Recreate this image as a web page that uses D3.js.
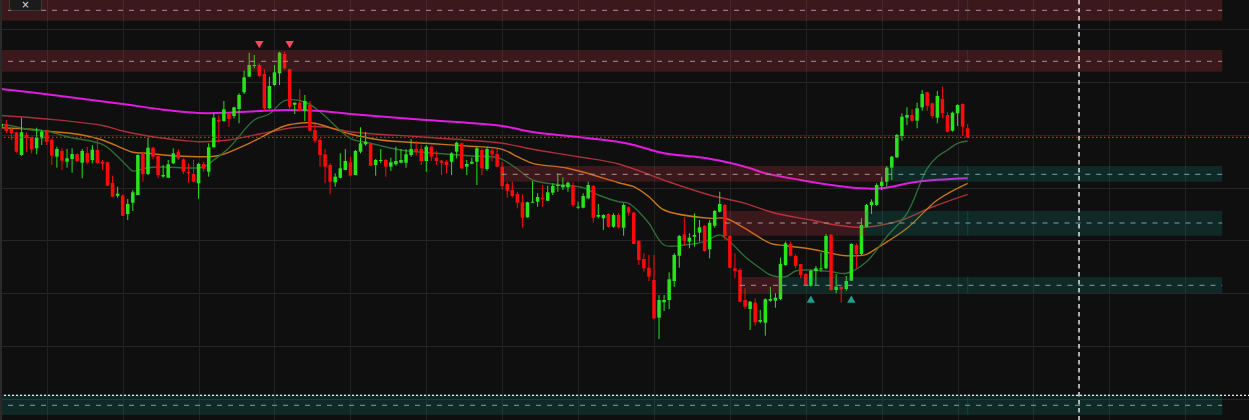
<!DOCTYPE html>
<html><head><meta charset="utf-8">
<script src="https://cdn.jsdelivr.net/npm/d3@7"></script>
<style>html,body{margin:0;padding:0;background:#0f0f0f;overflow:hidden}</style>
</head><body><svg id="c" width="1249" height="420"></svg>
<script>
// ---- Candles (index 0..191), price units ----
const opens = [372.6,375.3,370.3,367,344.3,364.3,362,351,361,367.6,359.6,342.6,348.3,337.6,340.3,345,336.6,346.3,339.3,349.3,337.6,337,316.3,303.6,303.6,285.3,296.6,304.3,346,325.3,351.6,343.3,322.8,321.6,336,347.6,340,327.3,325.3,316,335.3,327.6,352,379.3,378.3,386,383.3,390.3,407,422.6,433.3,434.3,425.3,391,414.3,426,445.3,430.3,394.6,396.6,388.3,394.3,369.3,359.3,345,334.3,317,321.6,329.3,337,324.3,347.6,355,356,334.3,338.3,339.3,332.6,335,336.6,336.6,344.3,350.3,350.3,338.3,352.6,341.6,338.6,337.6,337.6,347.6,356,332.6,335.6,337.6,349.3,330.3,348.6,345.3,332.6,315.3,309.3,305.3,297,282,296.6,297.6,301.6,298.6,306.6,313.6,312,312,314.3,291.6,291.6,301,313.3,282.6,281,285.3,272.6,284.3,271.6,292,286.6,258.3,240.3,231.6,219.3,181.6,197,199.3,218.3,243.6,265,257.6,262.6,266.6,273.3,250,273.6,287.6,294.3,263.3,231,229.3,199.3,190.3,196.6,177.6,176.6,198.6,198.6,200.3,234.3,255.3,243.3,235.3,225.3,213.6,228.3,230.3,231,264.3,209.3,212.6,210.3,218.6,254.3,245.3,272.6,294.3,294.3,313.3,317.6,331.6,342,363.3,381.6,384.3,378.6,392,407,396,381.6,400.3,384.3,368.6,386,395.3,371];
const highs = [376.3,379.3,372.6,367.6,381.6,367,362.6,371.6,369.3,369.3,361,352.6,351,350.3,351,346,350.3,352.6,354.3,359.3,339.3,337.6,323.6,312.6,305,300.3,309.3,345,347.6,361.6,352.6,343.6,334.3,339.3,351,350,341,336,339.3,336.6,337.3,356,386,384.3,398.3,386.6,392.6,406,428.6,446.6,444.3,436,430,422.6,434.3,447.6,447.6,430.3,396.6,410,404.3,398.3,375.3,361,350.3,336,326,346,350.3,342.6,349.3,372,367,356.6,340.3,350.3,340.3,341.6,352.6,350.3,350.3,360.3,358.3,354.3,354.3,353.6,348.3,339.3,339.3,347,357.6,356.6,339.3,341.6,352.6,351,352.6,351.6,350.3,337.6,317,317.6,307.6,305,297.6,318.3,306,314.3,313.6,316,326,322,317.6,317,297.6,306,317.6,314.3,295.3,285,286,286,286,296,293.3,287.6,259.3,246,244.3,244.3,204.3,204.3,227,246,264.3,282,266,286,279.3,274.3,279.3,289.3,307.6,295.3,264.3,246,231,211,198.3,201,189.3,201,212.6,206,241.6,257.6,257.6,245,235.3,226,229.3,233.3,246.6,265.3,265.3,225.3,212.6,223.3,256,256,281,295.3,300,316,322.6,333.3,343.3,365.3,386,392,390,396.6,409.3,407.6,396.6,408.3,412.6,387,387.6,395,396,375.3];
const lows = [372.3,366.3,359.3,346.6,343.6,347,346,345,354.3,354.3,334.3,331.6,329.3,331.6,326.6,337,321,335,336,335,329.3,313.3,302.3,301.6,283.3,279.3,288.3,304.3,317.6,324.3,340.3,321.6,321.6,321.6,335.3,339.3,325.3,316.6,317,300.6,327.6,322.6,352,356.6,377.6,372.6,381,376,405.3,422.6,431,422,388.6,390.3,413.6,414.3,430,389.3,385.3,387.6,378.3,367.6,356.6,332.6,316,305,312.6,321,329.3,322.6,324.3,346,353.6,333.6,323.6,336,322.6,328.3,333.6,336,331.6,342.6,343.6,334.3,327.6,338.3,334.3,324.3,326,324.3,341,330.3,324.3,335.6,314.3,324.3,328.6,337.6,332,309.3,301.6,301.6,291,271.6,281.6,296.6,292.6,292.6,298.3,304.3,307.6,309.3,307.6,292.6,290.3,291,300.3,276.6,281,269.3,271.6,271.6,271,263.6,283.6,255,234.3,227.6,218.3,180.3,160.3,188.3,190.3,212.6,231.6,254.3,251,252.6,257.6,247.6,241,271.6,287,259.3,231,221,197,190.3,169.3,173.6,176,163.6,197.6,191.6,199.3,233.6,242.6,231,221,213.6,212.6,214.3,227.6,230.3,208.6,206,196.6,208.6,218.6,231,244.3,272,285.3,293.6,309.3,312.6,319.3,341.3,358.6,374.3,377.6,371,388.6,388.6,381,376,381,367,367.6,373.3,363.3,361];
const closes = [375.3,368.3,366,347.6,367,361.6,350,362,367.6,357.6,343.6,350.3,338.6,341,345.3,338.3,348.3,337,349.6,336.3,335.6,313.6,302.6,305.6,283.6,295.3,307,344.3,325.3,351.6,342.6,324.3,324.3,335,346,341,327.6,326,317.6,335.3,330.6,352,381.6,377.6,390,380.3,392,404.3,422,434.3,434.3,423.3,391,413.3,427,446.6,431,392.6,396.6,388.3,398.3,368.6,358.6,344.3,332.6,317.6,322.6,331,338.3,323.6,348.3,356,357.6,333.6,339.3,339.3,332.6,337,338.3,339.3,345,350.3,347.6,338.3,352.6,342.6,338.3,336.6,334.3,346,356.6,331,335.3,337.6,351,331,350.3,345,332.6,313.3,308.6,303.3,296.6,281.6,297,297.6,302.3,300,307,313.3,314.3,314.3,316.6,294.3,292.6,303.3,314.3,281.6,284.3,284.3,272.6,284.3,272,294.3,286.6,255.3,239.3,231,222.6,181,199.3,199.3,220,244.3,263.3,258.6,261.6,264.3,272,248.3,276.6,288.3,295.3,263.3,231.6,228.3,197.6,192.6,197.6,177,179.3,200,200.3,201.6,235.3,256,243.6,233.3,224.3,214.3,228.6,231,231,263.3,209.3,212.6,210,218.3,255.3,245.3,274.3,294.3,297.6,314.3,317.6,331.6,342.6,364.3,382.6,384.3,378.6,391,405.3,393.6,383.3,403.3,386,367.6,386.6,394.3,372.6,362];

// ---- Moving averages, read at sample bars [index, value] ----
const maLong = [[0,410.3],[9,405],[24,395.3],[32,389.6],[39,386.3],[45,386.6],[51,388.3],[57,389.3],[63,388.3],[69,385.3],[84,379.3],[99,373.3],[105,367.3],[114,362.3],[122,357.3],[125,354.3],[131,346],[138,342],[143,337.6],[148,331],[151,326],[158,319.3],[164,314.3],[170,311],[174,311],[181,317.6],[191,321]];
const maSlow = [[0,383.8],[9,380.3],[20,373.8],[24,368.3],[29,363.3],[36,358.8],[39,357.6],[45,359.3],[51,365.3],[58,371.8],[64,372.3],[69,367.6],[84,362],[99,356],[105,350],[114,342.6],[122,335.3],[132,317.3],[140,304.3],[147,296],[153,286],[160,279.3],[165,274.3],[170,272],[174,274.3],[178,279.3],[184,292.3],[191,305]];
const maMid = [[0,371.6],[6,370],[9,368.3],[16,364.3],[20,359.3],[24,351],[26,347],[29,346],[32,344.3],[39,342.6],[43,343.8],[49,356],[56,373.3],[60,376.6],[62,376],[69,365.3],[75,359.3],[84,356],[92,353.3],[99,350],[102,342.6],[105,336],[112,331],[122,316.6],[125,312.6],[128,302.6],[131,289.3],[140,281],[143,281],[147,271],[152,256],[155,253.6],[160,250.3],[167,243.6],[171,245],[173,251],[179,271],[185,299.3],[191,316]];
const maFast = [[0,375],[2,373.6],[6,369.3],[9,368.3],[13,362.6],[20,355],[22,347.6],[25,332.6],[26,328.3],[29,331.6],[32,332.3],[40,332.3],[42,339.3],[45,351.3],[50,379.3],[53,385.3],[56,398.6],[60,397.3],[63,387.6],[69,361],[73,356],[79,349.3],[86,346],[93,343.3],[97,342.6],[99,340],[102,330.3],[105,319.3],[109,315.3],[115,311.6],[118,304.3],[122,297.6],[124,296],[126,287.6],[128,276],[131,254.3],[135,254.3],[139,257.6],[142,264.3],[144,257.6],[147,242.6],[150,231],[152,224.3],[155,222.6],[157,228.3],[160,229.3],[164,227.6],[167,226],[171,237.6],[175,262.6],[179,286],[183,331],[185,342.6],[187,349.3],[189,356],[191,358.3]];

// ---- Supply / demand zones ----
const zoneTop    = [499.6, 449.3, 333.3, 288.3, 222.3, 105.0];
const zoneBottom = [478.6, 427.6, 317.6, 263.6, 206.3, 84.3];
const zoneMid    = [489.0, 438.0, 325.0, 276.3, 214.0, 94.0];
const zoneStart  = [-3, -3, 98.9, 143, 146, -3];
const zoneFlip   = [null, null, 175.1, 171, 154.2, null];
const zoneKind   = ["supply","supply","supply","supply","supply","demand"];
const zoneEndIdx = 241.3;

// ---- Signals ----
const sellIdx = [51, 57];   const sellPrice = [455.8, 455.8];
const buyIdx  = [160, 168]; const buyPrice  = [199.0, 199.0];

// ---- Grid / crosshair ----
const xGridIdx = [9,24,39,54,69,84,99,114,129,144,159,174,189,204,219,234];
const yGridVals = [470,417,364,311,259,206,153,100];
const crossIdx = 213, crossPrice = 104;

const W = 1249, H = 420;
const svg = d3.select("#c");
const x = d3.scaleLinear().domain([0, 246]).range([1.24, 1.24 + 246*5.06]);
const y = d3.scaleLinear().domain([499.3, 79.3]).range([0, H]);

svg.append("rect").attr("width", W).attr("height", H).attr("fill", "#0f0f0f");

// grid
svg.append("g")
  .call(d3.axisLeft(y).tickValues(yGridVals).tickSize(-W).tickFormat(""))
  .call(g => { g.select(".domain").remove(); g.selectAll("line").attr("stroke","#262626").attr("shape-rendering","crispEdges"); });
svg.append("g")
  .call(d3.axisTop(x).tickValues(xGridIdx).tickSize(-H).tickFormat(""))
  .call(g => { g.select(".domain").remove(); g.selectAll("line").attr("stroke","#222222").attr("shape-rendering","crispEdges"); });

// moving averages
const line = d3.line().x(d => x(d[0])).y(d => y(d[1])).curve(d3.curveCatmullRom.alpha(0.5));
const maDefs = [[maSlow,"#a8303a",1.4],[maMid,"#c87512",1.4],[maFast,"#2f6c35",1.4],[maLong,"#e21be2",2]];
maDefs.forEach(([d,c,w]) => svg.append("path").attr("d", line(d)).attr("fill","none").attr("stroke",c).attr("stroke-width",w));

// candles
const idx = d3.range(opens.length);
const cg = svg.append("g");
idx.forEach(i => {
  const up = closes[i] >= opens[i];
  const col = up ? "#27e41b" : "#ff0a0a";
  const cx = x(i);
  cg.append("line").attr("x1",cx).attr("x2",cx).attr("y1",y(highs[i])).attr("y2",y(lows[i]))
    .attr("stroke",col).attr("stroke-width",1);
  const top = y(Math.max(opens[i],closes[i])), bot = y(Math.min(opens[i],closes[i]));
  cg.append("rect").attr("x",cx-1.75).attr("width",3.5).attr("y",top).attr("height",Math.max(1,bot-top)).attr("fill",col);
});

// zones
const supplyFill = "rgba(236,62,76,0.2)", demandFill = "rgba(16,160,136,0.19)";
const zg = svg.append("g");
zoneTop.forEach((t,k) => {
  const y0 = y(t), y1 = y(zoneBottom[k]);
  const segs = [];
  if (zoneKind[k] === "demand") segs.push([zoneStart[k], zoneEndIdx, "demand"]);
  else if (zoneFlip[k] == null) segs.push([zoneStart[k], zoneEndIdx, "supply"]);
  else { segs.push([zoneStart[k], zoneFlip[k], "supply"]); segs.push([zoneFlip[k], zoneEndIdx, "demand"]); }
  segs.forEach(([a,b,kind]) => {
    zg.append("rect").attr("x",x(a)).attr("width",x(b)-x(a)).attr("y",y0).attr("height",y1-y0)
      .attr("fill", kind==="supply"?supplyFill:demandFill);
    zg.append("line").attr("x1",x(a)).attr("x2",x(b)).attr("y1",y(zoneMid[k])).attr("y2",y(zoneMid[k]))
      .attr("stroke", kind==="supply"?"#a89294":"#7fa09a").attr("stroke-width",1).attr("stroke-dasharray","5,6");
  });
  const lx = x(opens.length-1);
  zg.append("rect").attr("x",lx-0.5).attr("width",1).attr("y",y0).attr("height",y1-y0)
    .attr("fill","rgba(40,160,130,0.22)");
});

// signal triangles
const tri = d3.symbol(d3.symbolTriangle, 30);
sellIdx.forEach((i,k) => svg.append("path").attr("d",tri())
  .attr("transform",`translate(${x(i)},${y(sellPrice[k])}) rotate(180)`).attr("fill","#f24a5e"));
buyIdx.forEach((i,k) => svg.append("path").attr("d",tri())
  .attr("transform",`translate(${x(i)},${y(buyPrice[k])})`).attr("fill","#1f9e90"));

// last price line
const lastY = y(closes[closes.length-1]);
svg.append("line").attr("x1",0).attr("x2",W).attr("y1",lastY).attr("y2",lastY)
  .attr("stroke","#e02424").attr("stroke-width",1.2).attr("stroke-dasharray","1.5,2.5");

// crosshair
svg.append("line").attr("x1",x(crossIdx)).attr("x2",x(crossIdx)).attr("y1",0).attr("y2",H)
  .attr("stroke","#f0f0f0").attr("stroke-width",1.4).attr("stroke-dasharray","4.5,3.5");
svg.append("line").attr("x1",0).attr("x2",W).attr("y1",y(crossPrice)).attr("y2",y(crossPrice))
  .attr("stroke","#f0f0f0").attr("stroke-width",1.3).attr("stroke-dasharray","2,2");

// left border
svg.append("rect").attr("x",0).attr("y",0).attr("width",2).attr("height",H).attr("fill","#2a2a2a");

// top-left button
svg.append("rect").attr("x",9.5).attr("y",-8).attr("width",32).attr("height",18.5).attr("rx",3)
  .attr("fill","#1b1b1b").attr("stroke","#3a3a3a");
svg.append("text").attr("x",25.5).attr("y",8).attr("text-anchor","middle")
  .attr("font-family","DejaVu Sans").attr("font-size",10).attr("fill","#dddddd").text("×");
</script>
</body></html>
